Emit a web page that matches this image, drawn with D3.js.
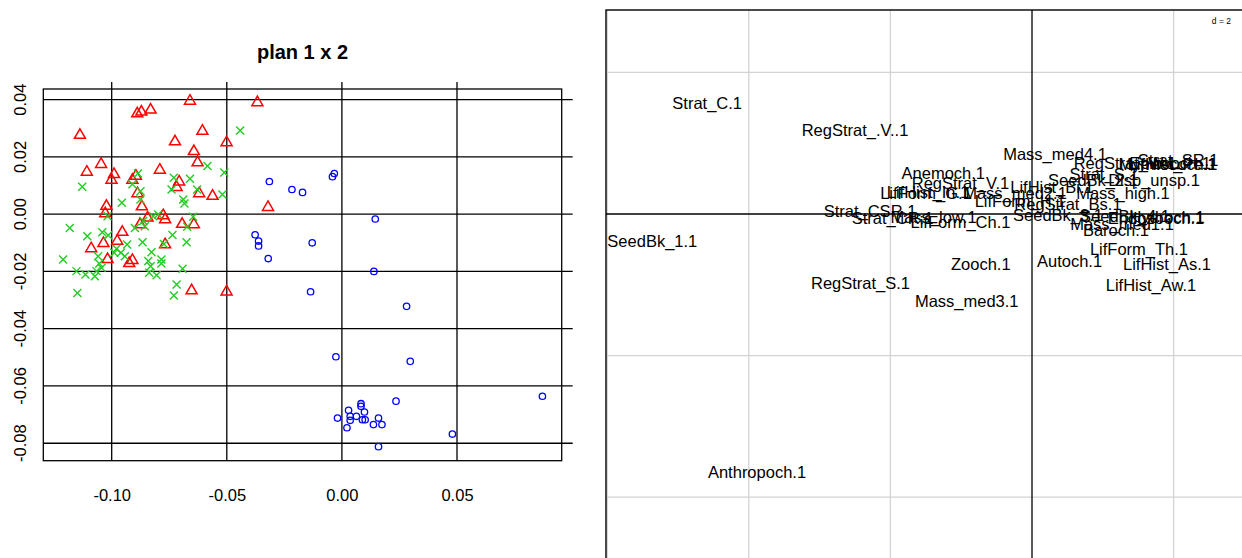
<!DOCTYPE html>
<html><head><meta charset="utf-8">
<script src="https://cdn.jsdelivr.net/npm/d3@7"></script>
<style>
html,body{margin:0;padding:0;background:#fff;}
svg{display:block;font-family:"Liberation Sans",Arial,Helvetica,sans-serif;}
</style></head>
<body>
<svg id="chart" width="1242" height="558"></svg>
<script>
// ---------- Left panel data (plan 1 x 2) ----------
const chartTitle = "plan 1 x 2";
const xTicks = [-0.10, -0.05, 0.00, 0.05];
const xTickLabels = ["-0.10", "-0.05", "0.00", "0.05"];
const yTicks = [0.04, 0.02, 0.00, -0.02, -0.04, -0.06, -0.08];
const yTickLabels = ["0.04", "0.02", "0.00", "-0.02", "-0.04", "-0.06", "-0.08"];

const redTriangles = [
  [-0.0660,0.0395],[-0.0367,0.0390],[-0.0889,0.0351],[-0.0871,0.0357],[-0.0831,0.0364],
  [-0.1138,0.0276],[-0.0606,0.0290],[-0.0725,0.0253],[-0.0501,0.0250],[-0.0643,0.0219],
  [-0.0627,0.0180],[-0.1046,0.0174],[-0.1108,0.0147],[-0.0990,0.0139],[-0.1001,0.0119],
  [-0.0791,0.0154],[-0.0895,0.0133],[-0.0910,0.0119],[-0.0707,0.0113],[-0.0718,0.0094],
  [-0.0888,0.0072],[-0.0620,0.0072],[-0.0562,0.0063],[-0.0321,0.0024],[-0.1023,0.0028],
  [-0.1028,0.0002],[-0.0869,0.0026],[-0.0844,-0.0013],[-0.0776,-0.0005],[-0.0768,-0.0019],
  [-0.0694,-0.0035],[-0.0643,-0.0036],[-0.0877,-0.0036],[-0.0954,-0.0063],[-0.0976,-0.0094],
  [-0.1036,-0.0102],[-0.1089,-0.0120],[-0.0768,-0.0106],[-0.1018,-0.0158],[-0.0910,-0.0161],
  [-0.0924,-0.0172],[-0.0653,-0.0267],[-0.0501,-0.0271]
];
const greenCrosses = [
  [-0.0442,0.0292],[-0.0584,0.0168],[-0.0511,0.0145],[-0.1128,0.0096],[-0.0886,0.0142],
  [-0.0730,0.0127],[-0.0660,0.0124],[-0.0910,0.0104],[-0.0875,0.0080],[-0.0740,0.0086],
  [-0.0629,0.0086],[-0.0519,0.0069],[-0.0689,0.0051],[-0.0684,0.0037],[-0.0956,0.0040],
  [-0.0875,0.0051],[-0.1018,-0.0007],[-0.0820,-0.0007],[-0.0798,-0.0001],[-0.0646,-0.0009],
  [-0.0672,-0.0044],[-0.0856,-0.0042],[-0.0899,-0.0048],[-0.1182,-0.0048],[-0.1106,-0.0077],
  [-0.1041,-0.0063],[-0.1015,-0.0074],[-0.0736,-0.0073],[-0.0675,-0.0098],[-0.0866,-0.0098],
  [-0.0933,-0.0106],[-0.0979,-0.0121],[-0.0960,-0.0135],[-0.0943,-0.0147],[-0.0827,-0.0133],
  [-0.0773,-0.0104],[-0.0784,-0.0158],[-0.0784,-0.0172],[-0.0841,-0.0164],[-0.0831,-0.0182],
  [-0.0837,-0.0205],[-0.0805,-0.0213],[-0.1211,-0.0158],[-0.1059,-0.0147],[-0.1054,-0.0172],
  [-0.1044,-0.0187],[-0.1066,-0.0199],[-0.1073,-0.0217],[-0.1114,-0.0211],[-0.1153,-0.0199],
  [-0.0692,-0.0191],[-0.0718,-0.0246],[-0.0730,-0.0284],[-0.1149,-0.0275],[-0.0989,-0.0135],
  [-0.0863,-0.0024]
];
const blueCircles = [
  [-0.0315,0.0114],[-0.0217,0.0086],[-0.0171,0.0076],[-0.0041,0.0131],[-0.0033,0.0142],
  [0.0145,-0.0017],[-0.0377,-0.0072],[-0.0362,-0.0094],[-0.0362,-0.0111],[-0.0320,-0.0155],
  [-0.0129,-0.0100],[0.0139,-0.0200],[-0.0136,-0.0271],[0.0281,-0.0322],[-0.0026,-0.0498],
  [0.0297,-0.0514],[0.0871,-0.0636],[0.0235,-0.0653],[0.0083,-0.0662],[0.0083,-0.0671],
  [0.0098,-0.0691],[0.0029,-0.0685],[0.0036,-0.0706],[0.0036,-0.0720],[0.0063,-0.0706],
  [-0.0019,-0.0712],[0.0089,-0.0718],[0.0101,-0.0718],[0.0159,-0.0712],[0.0137,-0.0735],
  [0.0174,-0.0735],[0.0022,-0.0746],[0.0480,-0.0768],[0.0159,-0.0812]
];

// ---------- Right panel data (s.label) ----------
const gridStep = 2;
const gridLabel = "d = 2";
const labelNames = [
  "Strat_C.1","RegStrat_.V..1","SeedBk_1.1","Anthropoch.1","RegStrat_S.1","Zooch.1",
  "Mass_med3.1","Autoch.1","LifForm_Th.1","LifHist_As.1","LifHist_Aw.1","Mass_med4.1",
  "Anemoch.1","RegStrat_V.1","LifForm_G.1","LifHist_In.1","Mass_med2.1","LifHist_Bi.1",
  "LifForm_H.1","RegStrat_Bs.1","Strat_CSR.1","Strat_CR.1","Mass_low.1","LifForm_Ch.1",
  "SeedBk_3.1","SeedBk_4.1","Hydroch.1","Endozooch.1","Mass_med1.1","Baroch.1",
  "RegStrat_W.1","Strat_SR.1","LifHist_Pe.1","Myrmecoch.1","Epizooch.1","Strat_S.1",
  "SeedBk_2.1","Disp_unsp.1","Mass_high.1"
];
const labelX = [
  -4.588,-2.500,-5.363,-3.884,-2.422,-0.723,
  -0.922,0.530,1.511,1.907,1.681,0.325,
  -1.253,-1.010,-1.497,-1.469,-0.240,0.282,
  -0.169,0.508,-2.288,-1.970,-1.391,-1.010,
  0.367,1.314,1.907,1.751,1.271,1.186,
  1.314,2.062,1.977,1.921,1.949,1.017,
  0.862,1.723,1.285
];
const labelY = [
  1.561,1.186,-0.381,-3.644,-0.982,-0.706,
  -1.229,-0.664,-0.490,-0.706,-1.003,0.852,
  0.579,0.438,0.297,0.311,0.297,0.381,
  0.184,0.141,0.042,-0.056,-0.049,-0.113,
  -0.014,-0.028,-0.042,-0.056,-0.141,-0.226,
  0.720,0.763,0.706,0.706,0.720,0.565,
  0.480,0.480,0.297
];

const svg = d3.select("#chart");
const FONT = 16.5;

// ======== LEFT PANEL ========
const L = {left: 43.3, right: 561.7, top: 89, bottom: 460.7};
const x1 = d3.scaleLinear().domain([-0.12971, 0.09548]).range([L.left, L.right]);
const y1 = d3.scaleLinear().domain([-0.0861, 0.0437]).range([L.bottom, L.top]);
const gL = svg.append("g");

// grid / reference lines
gL.selectAll("line.v").data(xTicks).join("line")
  .attr("x1", d => x1(d)).attr("x2", d => x1(d))
  .attr("y1", L.top - 7).attr("y2", L.bottom)
  .attr("stroke", "#000").attr("stroke-width", 1.3);
gL.selectAll("line.h").data(yTicks).join("line")
  .attr("y1", d => y1(d)).attr("y2", d => y1(d))
  .attr("x1", L.left).attr("x2", L.right + 11)
  .attr("stroke", "#000").attr("stroke-width", 1.3);
gL.append("rect").attr("x", L.left).attr("y", L.top)
  .attr("width", L.right - L.left).attr("height", L.bottom - L.top)
  .attr("fill", "none").attr("stroke", "#000").attr("stroke-width", 1.3);

// axes labels (no tick marks)
const xAxis = d3.axisBottom(x1).tickValues(xTicks).tickSize(0)
  .tickFormat((d, i) => xTickLabels[i]);
const gx = gL.append("g").attr("transform", `translate(0,${L.bottom})`).call(xAxis);
gx.select(".domain").remove();
gx.selectAll("text").attr("font-size", FONT).attr("fill", "#000")
  .attr("font-family", "Liberation Sans, Arial, sans-serif")
  .attr("dy", null).attr("y", 40);

const gy = gL.append("g");
gy.selectAll("text").data(yTicks).join("text")
  .attr("transform", (d) => `translate(25.5,${y1(d)}) rotate(-90)`)
  .attr("text-anchor", "middle").attr("font-size", FONT).attr("fill", "#000")
  .text((d, i) => yTickLabels[i]);

// title
gL.append("text").attr("x", (L.left + L.right) / 2).attr("y", 59)
  .attr("text-anchor", "middle").attr("font-size", 20).attr("font-weight", "bold")
  .text(chartTitle);

// markers
const triS = 11, triH = triS * Math.sqrt(3) / 2;
const triPath = `M0,${-2*triH/3}L${triS/2},${triH/3}L${-triS/2},${triH/3}Z`;
gL.selectAll("path.tri").data(redTriangles).join("path")
  .attr("class", "tri")
  .attr("transform", d => `translate(${x1(d[0])},${y1(d[1])})`)
  .attr("d", triPath).attr("fill", "none").attr("stroke", "#FF0000").attr("stroke-width", 1.5);
const cs = 4;
gL.selectAll("path.cross").data(greenCrosses).join("path")
  .attr("class", "cross")
  .attr("transform", d => `translate(${x1(d[0])},${y1(d[1])})`)
  .attr("d", `M${-cs},${-cs}L${cs},${cs}M${-cs},${cs}L${cs},${-cs}`)
  .attr("fill", "none").attr("stroke", "#22CC22").attr("stroke-width", 1.4);
gL.selectAll("circle.pt").data(blueCircles).join("circle")
  .attr("class", "pt")
  .attr("cx", d => x1(d[0])).attr("cy", d => y1(d[1])).attr("r", 3.2)
  .attr("fill", "none").attr("stroke", "#0000FF").attr("stroke-width", 1.3);

// ======== RIGHT PANEL ========
const R = {left: 606, right: 1242, top: 10, bottom: 558};
const x2 = d3.scaleLinear().domain([-6.017, 2.966]).range([R.left, R.right]);
const y2 = d3.scaleLinear().domain([-4.859, 2.881]).range([R.bottom, R.top]);
const gR = svg.append("g");

const gxv = d3.range(Math.ceil(-6.017 / gridStep) * gridStep, 2.966, gridStep);
const gyv = d3.range(Math.ceil(-4.859 / gridStep) * gridStep, 2.881, gridStep);
gR.selectAll("line.gv").data(gxv.filter(d => d !== 0)).join("line")
  .attr("x1", d => x2(d)).attr("x2", d => x2(d)).attr("y1", R.top).attr("y2", R.bottom)
  .attr("stroke", "#D3D3D3").attr("stroke-width", 1.3);
gR.selectAll("line.gh").data(gyv.filter(d => d !== 0)).join("line")
  .attr("y1", d => y2(d)).attr("y2", d => y2(d)).attr("x1", R.left).attr("x2", R.right)
  .attr("stroke", "#D3D3D3").attr("stroke-width", 1.3);
// axes through origin
gR.append("line").attr("x1", x2(0)).attr("x2", x2(0)).attr("y1", R.top).attr("y2", R.bottom)
  .attr("stroke", "#000").attr("stroke-width", 1.3);
gR.append("line").attr("y1", y2(0)).attr("y2", y2(0)).attr("x1", R.left).attr("x2", R.right)
  .attr("stroke", "#000").attr("stroke-width", 1.3);

// labels
gR.selectAll("text.lab").data(labelNames).join("text")
  .attr("class", "lab")
  .attr("x", (d, i) => x2(labelX[i])).attr("y", (d, i) => y2(labelY[i]))
  .attr("dy", "0.36em").attr("text-anchor", "middle")
  .attr("font-size", FONT).attr("fill", "#000")
  .text(d => d);

// d = 2 box
gR.append("rect").attr("x", 1209).attr("y", 11).attr("width", 33).attr("height", 18)
  .attr("fill", "#fff");
gR.append("text").attr("x", 1231).attr("y", 23.5).attr("text-anchor", "end")
  .attr("font-size", 8.5).attr("fill", "#000").text(gridLabel);

// frame
gR.append("rect").attr("x", R.left).attr("y", R.top)
  .attr("width", R.right - R.left + 5).attr("height", R.bottom - R.top + 5)
  .attr("fill", "none").attr("stroke", "#000").attr("stroke-width", 1.4);
</script>
</body></html>
